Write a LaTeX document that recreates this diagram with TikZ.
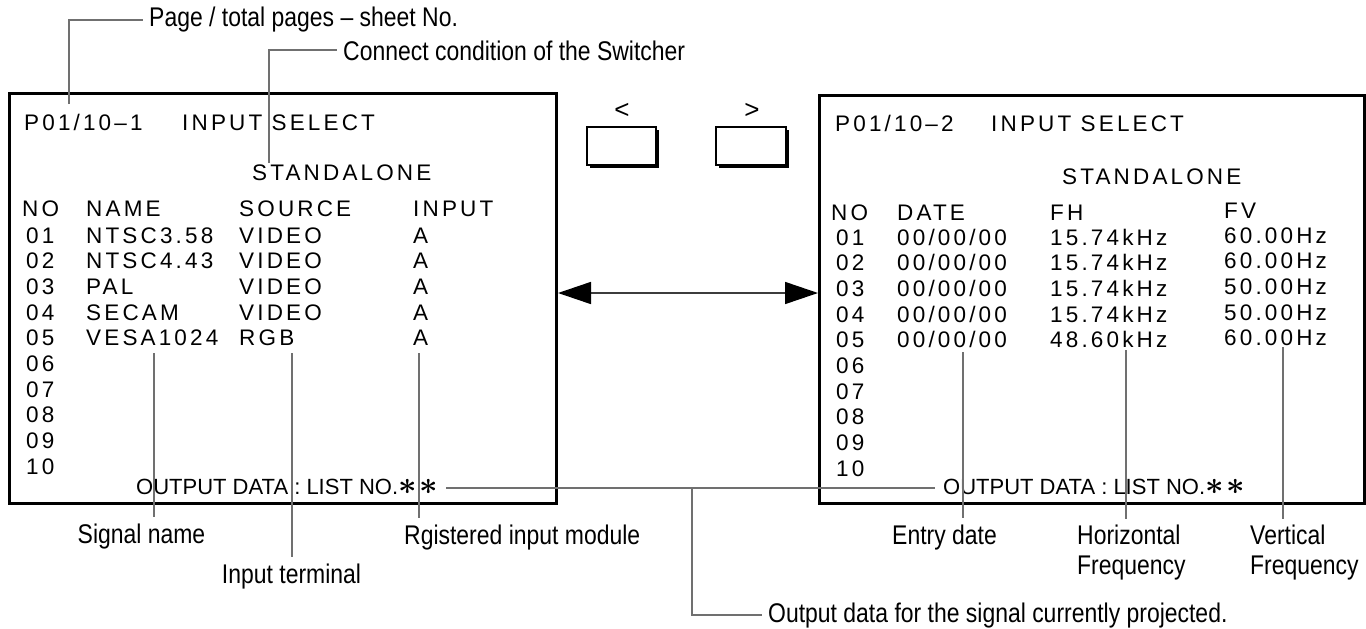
\documentclass[tikz,border=0pt]{standalone}
\usepackage{fontspec}
\setmainfont{Liberation Sans}
\newfontfamily\scrfont[LetterSpace=14]{Liberation Sans}
\newfontfamily\lblfont[FakeStretch=0.85]{Liberation Sans}
\usetikzlibrary{arrows.meta,shadows}
\definecolor{leadgray}{RGB}{112,112,112}
\definecolor{arrgray}{RGB}{60,60,60}
\newcommand{\scrstar}{\scalebox{1.55}{$\boldsymbol{\ast}$}}
\usepackage{amsmath,bm}
\tikzset{
 screen/.style={draw=black, line width=3pt, anchor=north west, inner sep=0},
 scr/.style={font=\scrfont\fontsize{22.5}{25}\selectfont, anchor=base west, inner sep=0},
 outtxt/.style={font=\fontsize{22}{25}\selectfont, anchor=base west, inner xsep=8pt, inner ysep=0},
 lbl/.style={font=\lblfont\fontsize{27}{30}\selectfont, inner xsep=0, inner ysep=6pt, align=left},
 toplbl/.style={font=\lblfont\fontsize{27}{30}\selectfont, anchor=base west, inner xsep=6pt, inner ysep=0},
 leader/.style={draw=leadgray, line width=1.9pt},
 button/.style={draw=black, fill=white, line width=1.2pt, minimum width=69pt, minimum height=38pt, inner sep=0,
   drop shadow={shadow xshift=3pt, shadow yshift=-3pt, fill=black, opacity=1}},
 arrowtxt/.style={font=\fontsize{26}{28}\selectfont, inner sep=0},
 twoway/.style={draw=arrgray, line width=1.6pt,
   {Triangle[length=33pt,width=22pt,color=black]}-{Triangle[length=33pt,width=22pt,color=black]}},
}
\begin{document}
\begin{tikzpicture}[x=1pt,y=-1pt]
\useasboundingbox (0,0) rectangle (1366,629);

% screens
\node[screen, minimum width=547pt, minimum height=410pt] (scrL) at (8,92) {};
\node[screen, minimum width=545pt, minimum height=408pt] (scrR) at (818,94) {};

% left screen texts
\node[scr] (Lhead) at (24,130) {P01/10–1};
\node[scr] (Lsel) at (182,130) {INPUT SELECT};
\node[scr] (Lstand) at (252,180.5) {STANDALONE};
\node[scr] (LhNo) at (22,216) {NO};
\node[scr] (LhName) at (86,216) {NAME};
\node[scr] (LhSrc) at (239,216) {SOURCE};
\node[scr] (LhInp) at (413,216) {INPUT};
\foreach \n/\nm/\src/\inp [count=\i] in {01/NTSC3.58/VIDEO/A,02/NTSC4.43/VIDEO/A,03/PAL/VIDEO/A,04/SECAM/VIDEO/A,05/VESA1024/RGB/A}{
  \node[scr] (L-no-\i) at (26,{243+25.7*(\i-1)}) {\n};
  \node[scr] (L-nm-\i) at (86,{243+25.7*(\i-1)}) {\nm};
  \node[scr] (L-src-\i) at (239,{243+25.7*(\i-1)}) {\src};
  \node[scr] (L-inp-\i) at (413,{243+25.7*(\i-1)}) {\inp};
}
\foreach \n [count=\i from 6] in {06,07,08,09,10}{
  \node[scr] (L-no-\i) at (26,{243+25.7*(\i-1)}) {\n};
}

% right screen texts
\node[scr] (Rhead) at (835,131) {P01/10–2};
\node[scr] (Rsel) at (991,131) {INPUT SELECT};
\node[scr] (Rstand) at (1062,184) {STANDALONE};
\node[scr] (RhNo) at (831,220) {NO};
\node[scr] (RhDate) at (897,220) {DATE};
\node[scr] (RhFH) at (1050,220) {FH};
\node[scr] (RhFV) at (1224,218) {FV};
\foreach \n/\fh/\fv [count=\i] in {01/15.74kHz/60.00Hz,02/15.74kHz/60.00Hz,03/15.74kHz/50.00Hz,04/15.74kHz/50.00Hz,05/48.60kHz/60.00Hz}{
  \node[scr] (R-no-\i) at (836,{245+25.7*(\i-1)}) {\n};
  \node[scr] (R-date-\i) at (897,{245+25.7*(\i-1)}) {00/00/00};
  \node[scr] (R-fh-\i) at (1050,{245+25.7*(\i-1)}) {\fh};
  \node[scr] (R-fv-\i) at (1224,{243+25.7*(\i-1)}) {\fv};
}
\foreach \n [count=\i from 6] in {06,07,08,09,10}{
  \node[scr] (R-no-\i) at (836,{245+25.7*(\i-1)}) {\n};
}

% output data lines
\node[outtxt] (outL) at (128,494) {OUTPUT DATA : LIST NO.\scrstar\hspace{3pt}\scrstar};
\node[outtxt] (outR) at (935,494) {OUTPUT DATA : LIST NO.\scrstar\hspace{3pt}\scrstar};
\coordinate (lineY) at (0,488);
\draw[leader] (outL.east |- lineY) -- (outR.west |- lineY);
\coordinate (bx) at (692,600);
\node[toplbl] (lblOut) at (762,622) {Output data for the signal currently projected.};
\draw[leader] (bx |- lineY) |- (lblOut.west);

% buttons
\node[button] (btnPrev) at (621.5,146) {};
\node[button, minimum width=70pt] (btnNext) at (751,146) {};
\node[arrowtxt] (ltPrev) at (622,111) {<};
\node[arrowtxt] (gtNext) at (752,111) {>};

% two-way arrow
\coordinate (arrY) at (0,293);
\draw[twoway] (scrL.east |- arrY) -- (scrR.west |- arrY);

% top labels
\coordinate (pageTop) at (69,104);
\node[toplbl] (lblPage) at (143,27) {Page / total pages – sheet No.};
\draw[leader] (pageTop) |- (lblPage.west);
\coordinate (connTop) at (269,163);
\node[toplbl] (lblConn) at (337,60) {Connect condition of the Switcher};
\draw[leader] (connTop) |- (lblConn.west);

% bottom labels, left
\coordinate (sigTop) at (154,353);
\coordinate (termTop) at (292,353);
\coordinate (modTop) at (419,353);
\node[lbl, anchor=base] (lblSig) at (141.5,543) {Signal name};
\node[lbl, anchor=base] (lblTerm) at (291.5,583) {Input terminal};
\node[lbl, anchor=base west] (lblMod) at (404,544) {Rgistered input module};
\draw[leader] (sigTop) -- (sigTop |- lblSig.north);
\draw[leader] (termTop) -- (termTop |- lblTerm.north);
\draw[leader] (modTop) -- (modTop |- lblMod.north);

% bottom labels, right
\coordinate (dateTop) at (963,352);
\coordinate (fhTop) at (1126,350);
\coordinate (fvTop) at (1283,347);
\node[lbl, anchor=base west] (lblDate) at (892,544) {Entry date};
\node[lbl, anchor=north west] (lblFH) at (1077,518.5) {Horizontal\\Frequency};
\node[lbl, anchor=north west] (lblFV) at (1250,518.5) {Vertical\\Frequency};
\draw[leader] (dateTop) -- (dateTop |- lblDate.north);
\draw[leader] (fhTop) -- (fhTop |- lblFH.north);
\draw[leader] (fvTop) -- (fvTop |- lblFV.north);
\end{tikzpicture}
\end{document}
